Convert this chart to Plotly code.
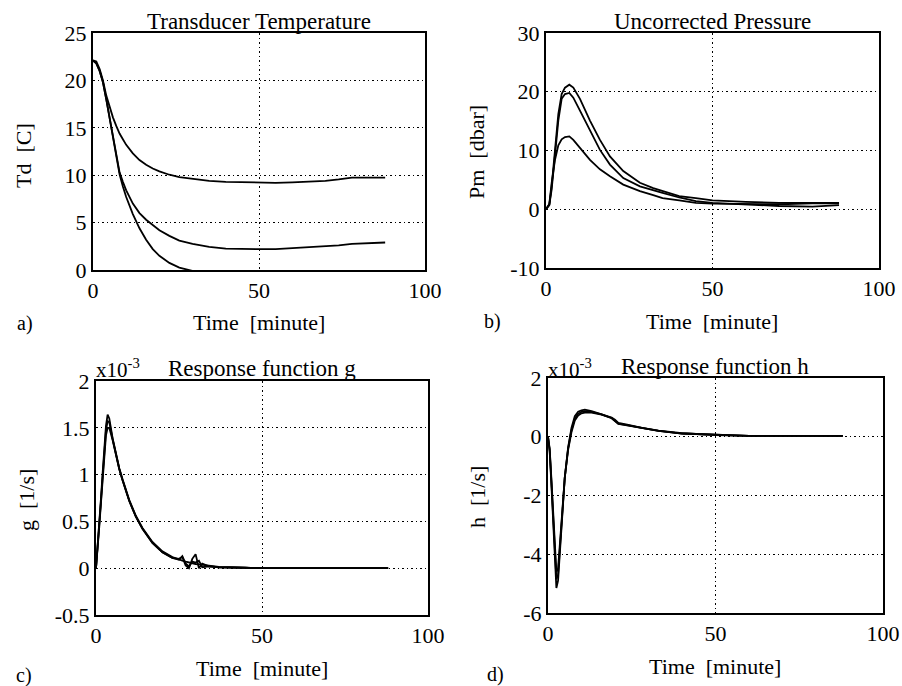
import plotly.graph_objects as go

# panel a - transducer temperature [C]
t_a = [0, 1, 2, 3, 4, 5, 6, 7, 8, 9, 10, 12, 14, 16, 18, 20, 23, 26, 30, 35,
       40, 45, 50, 55, 60, 65, 70, 74, 78, 82, 88]
td_top = [22.1, 22.0, 21.2, 20.0, 18.4, 17.1, 16.1, 15.2, 14.4, 13.8, 13.2, 12.3,
          11.6, 11.1, 10.7, 10.4, 10.05, 9.8, 9.6, 9.4, 9.3, 9.25, 9.2, 9.2, 9.25,
          9.3, 9.4, 9.55, 9.75, 9.75, 9.75]
td_mid = [22.1, 21.8, 21.0, 19.8, 18.0, 16.0, 14.0, 12.0, 10.3, 9.3, 8.4, 7.0,
          6.0, 5.3, 4.7, 4.2, 3.6, 3.1, 2.75, 2.45, 2.25, 2.2, 2.2, 2.2, 2.3, 2.4,
          2.55, 2.6, 2.75, 2.8, 2.9]
td_bot = [22.1, 21.8, 21.0, 19.8, 18.0, 16.0, 14.0, 12.0, 10.1, 8.8, 7.7, 5.9,
          4.4, 3.2, 2.2, 1.5, 0.75, 0.25, -0.1, -0.3, -0.4, -0.4, -0.4, -0.4, -0.4,
          -0.4, -0.4, -0.4, -0.4, -0.4, -0.4]

# panel b - uncorrected pressure [dbar]
t_b = [0, 1, 1.7, 2.7, 3.7, 4.7, 5.7, 7, 8.2, 10.2, 13.2, 16.2, 19.2, 23.2, 28.2,
       32.2, 35, 40, 45, 50, 60, 70, 80, 88]
pm_top = [0, 0.8, 3.9, 10.6, 16.2, 19.6, 20.7, 21.2, 20.7, 18.8, 15.1, 11.8, 9.0,
          6.5, 4.5, 3.6, 3.1, 2.25, 1.9, 1.5, 1.25, 1.1, 1.1, 1.1]
pm_mid = [0, 0.7, 3.4, 9.6, 15.1, 18.8, 19.6, 19.8, 19.0, 16.8, 13.5, 10.1, 7.6,
          5.3, 3.9, 3.2, 2.8, 2.0, 1.4, 1.1, 0.85, 0.55, 0.45, 0.7]
pm_bot = [0, 0.9, 4.5, 8.4, 10.9, 11.9, 12.3, 12.4, 11.8, 10.4, 8.4, 6.8, 5.6,
          4.2, 3.1, 2.4, 1.9, 1.5, 1.1, 0.95, 0.85, 0.85, 1.0, 1.0]

# panel c - response function g [1/s] x1e-3
t_c = [0, 0.5, 1, 1.5, 2, 2.5, 3, 3.5, 4, 5, 6, 7, 8, 10, 12, 14, 17, 20, 23, 25,
       26, 27, 28, 29, 30, 31, 32, 34, 37, 40, 45, 50, 60, 70, 80, 88]
g1 = [0, 0.22, 0.48, 0.75, 1.02, 1.28, 1.52, 1.64, 1.6, 1.39, 1.22, 1.07, 0.95,
      0.73, 0.56, 0.43, 0.28, 0.18, 0.12, 0.09, 0.08, 0.07, 0.06, 0.05, 0.045,
      0.04, 0.035, 0.025, 0.015, 0.01, 0.005, 0, 0, 0, 0, 0]
g2 = [0, 0.2, 0.45, 0.7, 0.95, 1.2, 1.42, 1.5, 1.5, 1.37, 1.21, 1.06, 0.94, 0.72,
      0.55, 0.42, 0.27, 0.17, 0.11, 0.1, 0.12, 0.03, 0.0, 0.1, 0.15, 0.0, 0.05,
      0.02, 0.01, 0.01, 0.005, 0, 0, 0, 0, 0]
g3 = [0, 0.21, 0.46, 0.72, 0.98, 1.24, 1.47, 1.57, 1.56, 1.38, 1.21, 1.06, 0.94,
      0.72, 0.55, 0.42, 0.27, 0.17, 0.11, 0.09, 0.13, 0.05, 0.02, 0.07, 0.06,
      0.08, 0.01, 0.02, 0.01, 0.01, 0.005, 0, 0, 0, 0, 0]

# panel d - response function h [1/s] x1e-3
t_d = [0, 0.5, 1, 1.5, 2, 2.5, 3, 3.5, 4, 5, 6, 7, 8, 9, 10, 11, 13, 16, 19, 20,
       21, 24, 28, 33, 40, 50, 60, 70, 80, 88]
h1 = [0, -0.5, -1.6, -2.9, -4.1, -5.15, -4.9, -4.0, -3.0, -1.4, -0.37, 0.3, 0.7,
      0.85, 0.9, 0.92, 0.87, 0.77, 0.65, 0.58, 0.47, 0.4, 0.3, 0.21, 0.12, 0.06,
      0.03, 0.03, 0.03, 0.03]
h2 = [0, -0.4, -1.4, -2.6, -3.8, -4.6, -4.5, -3.8, -2.8, -1.4, -0.45, 0.15, 0.55,
      0.72, 0.8, 0.82, 0.82, 0.75, 0.63, 0.55, 0.44, 0.38, 0.29, 0.2, 0.11, 0.06,
      0.03, 0.03, 0.03, 0.03]
h3 = [0, -0.45, -1.5, -2.75, -3.95, -4.85, -4.7, -3.9, -2.9, -1.4, -0.4, 0.22,
      0.62, 0.78, 0.85, 0.87, 0.85, 0.76, 0.64, 0.56, 0.45, 0.39, 0.3, 0.2, 0.11,
      0.06, 0.03, 0.03, 0.03, 0.03]

FONT = "Liberation Serif"
W, H = 902, 686

# plot frames in pixels: left, right, top, bottom
boxes = [(93, 425, 33, 270), (546, 879, 33, 268), (96, 428, 381, 615), (548, 883, 378, 613)]
yranges = [[0, 25], [-10, 30], [-0.5, 2], [-6, 2]]
ytick = [[0, 5, 10, 15, 20, 25], [-10, 0, 10, 20, 30],
         [-0.5, 0, 0.5, 1, 1.5, 2], [-6, -4, -2, 0, 2]]

fig = go.Figure()
series = [(t_a, [td_top, td_mid, td_bot]), (t_b, [pm_top, pm_mid, pm_bot]),
          (t_c, [g1, g2, g3]), (t_d, [h1, h2, h3])]
for i, (t, ys) in enumerate(series):
    sfx = "" if i == 0 else str(i + 1)
    for y in ys:
        fig.add_trace(go.Scatter(x=t, y=y, mode="lines", xaxis="x" + sfx, yaxis="y" + sfx,
                                 line=dict(color="black", width=1.8), showlegend=False,
                                 hoverinfo="skip"))

ax_common = dict(showline=True, mirror=True, linecolor="black", linewidth=2,
                 showgrid=True, gridcolor="black", griddash="1.5px,3px", gridwidth=1.3,
                 zeroline=False, ticks="", automargin=False,
                 tickfont=dict(family=FONT, size=22, color="black"))
layout = {}
for i, (l, r, t, b) in enumerate(boxes):
    sfx = "" if i == 0 else str(i + 1)
    layout["xaxis" + sfx] = dict(ax_common, domain=[l / W, r / W], range=[0, 100],
                                 tickvals=[0, 50, 100], anchor="y" + sfx)
    layout["yaxis" + sfx] = dict(ax_common, domain=[1 - b / H, 1 - t / H], range=yranges[i],
                                 tickvals=ytick[i], ticktext=[f"{v:g}" for v in ytick[i]],
                                 anchor="x" + sfx)

ann = []
def txt(x, y, s, size=22, xa="center", ya="middle", angle=0):
    ann.append(dict(x=x / W, y=1 - y / H, xref="paper", yref="paper",
                    text=s, showarrow=False, xanchor=xa, yanchor=ya, textangle=angle,
                    font=dict(family=FONT, size=size, color="black")))

txt(259, 22, "Transducer Temperature", 23)
txt(712, 21, "Uncorrected Pressure", 23)
txt(262, 368, "Response function g", 23)
txt(715, 366, "Response function h", 23)
txt(94, 369, "x10<sup>-3</sup>", 21, xa="left")
txt(546, 368, "x10<sup>-3</sup>", 21, xa="left")
for x, y in [(259, 322), (712, 321), (262, 668), (715, 666)]:
    txt(x, y, "Time\u00a0 [minute]")
txt(23, 156, "Td\u00a0 [C]", angle=-90)
txt(476, 152, "Pm\u00a0 [dbar]", angle=-90)
txt(27, 500, "g\u00a0 [1/s]", angle=-90)
txt(477, 497, "h\u00a0 [1/s]", angle=-90)
txt(25, 323, "a)", 20)
txt(493, 321, "b)", 20)
txt(24, 675, "c)", 20)
txt(495, 674, "d)", 20)

fig.update_layout(width=W, height=H, margin=dict(l=0, r=0, t=0, b=0),
                  paper_bgcolor="white", plot_bgcolor="white",
                  annotations=ann, **layout)
# drop the browser's default page margin so the figure fills the window
fig.write_html("out.html", config={"displayModeBar": False},
               post_script="document.body.style.margin='0';document.body.style.overflow='hidden';")
